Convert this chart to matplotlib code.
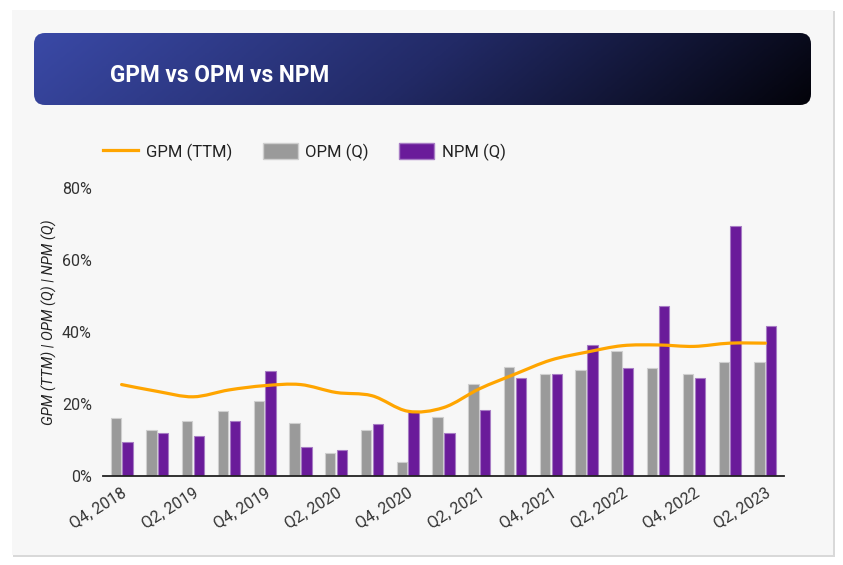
import numpy as np
import matplotlib.pyplot as plt
from matplotlib.patches import FancyBboxPatch, Rectangle, Patch, PathPatch
from matplotlib.path import Path
from matplotlib.lines import Line2D
from matplotlib.colors import LinearSegmentedColormap

plt.rcParams['font.family'] = ['Roboto', 'DejaVu Sans']

quarters = ['Q4, 2018', 'Q1, 2019', 'Q2, 2019', 'Q3, 2019', 'Q4, 2019',
            'Q1, 2020', 'Q2, 2020', 'Q3, 2020', 'Q4, 2020', 'Q1, 2021',
            'Q2, 2021', 'Q3, 2021', 'Q4, 2021', 'Q1, 2022', 'Q2, 2022',
            'Q3, 2022', 'Q4, 2022', 'Q1, 2023', 'Q2, 2023']
gpm_ttm = [25.4, 23.5, 22.0, 23.9, 25.1, 25.4, 23.2, 22.3, 18.0, 19.0,
           24.2, 28.3, 32.2, 34.4, 36.2, 36.4, 36.0, 36.9, 36.9]
opm_q = [16.0, 12.9, 15.3, 18.1, 20.8, 14.7, 6.4, 12.9, 4.0, 16.4,
         25.6, 30.4, 28.4, 29.5, 34.8, 30.0, 28.4, 31.6, 31.6]
npm_q = [9.5, 11.9, 11.2, 15.3, 29.2, 8.1, 7.2, 14.4, 17.7, 11.9,
         18.4, 27.2, 28.4, 36.4, 30.0, 47.2, 27.2, 69.5, 41.6]

ORANGE = '#ffa500'
GRAY = '#9a9a9a'
PURPLE = '#6a1b9a'

W, H = 843, 565
fig = plt.figure(figsize=(W / 100, H / 100), dpi=100)
fig.patch.set_facecolor('white')

# background card + title banner, drawn in pixel coords
bg = fig.add_axes([0, 0, 1, 1], zorder=0)
bg.set_xlim(0, W)
bg.set_ylim(H, 0)
bg.axis('off')
bg.add_patch(Rectangle((13, 11), 822, 546, facecolor='#d9d9d9', edgecolor='none'))
bg.add_patch(Rectangle((12, 10), 821, 545, facecolor='#f7f7f7', edgecolor='none'))

banner = FancyBboxPatch((34, 33), 777, 72, boxstyle='round,pad=0,rounding_size=11',
                        facecolor='none', edgecolor='none')
bg.add_patch(banner)
cmap = LinearSegmentedColormap.from_list('ban', ['#3a49a6', '#222a66', '#03030a'])
gx = np.linspace(0, 1, 400)
gy = np.linspace(0, 1, 40)
grad = gx[None, :] * 0.9 + gy[:, None] * 0.1
im = bg.imshow(grad, cmap=cmap, extent=(34, 811, 105, 33), aspect='auto', zorder=1)
im.set_clip_path(banner)
bg.text(110, 75, 'GPM vs OPM vs NPM', color='white', fontsize=16.3,
        fontweight='bold', va='center', ha='left', zorder=2)

# main chart
ax = fig.add_axes([103 / W, 1 - 476 / H, 681 / W, 288 / H], zorder=1)
ax.set_facecolor('none')
x = np.arange(len(quarters))
bw = 0.29
off = 0.165
ax.bar(x - off, opm_q, bw, color=GRAY, edgecolor='#cfcfcf', linewidth=0.8, zorder=2)
ax.bar(x + off, npm_q, bw, color=PURPLE, edgecolor='#a77cc4', linewidth=0.8, zorder=2)

# smooth GPM line as bezier path through the data points
pts = np.column_stack([x, gpm_ttm]).astype(float)
verts = [pts[0]]
codes = [Path.MOVETO]
n = len(pts)
for i in range(n - 1):
    p0 = pts[max(i - 1, 0)]
    p1 = pts[i]
    p2 = pts[i + 1]
    p3 = pts[min(i + 2, n - 1)]
    verts += [p1 + (p2 - p0) / 6, p2 - (p3 - p1) / 6, p2]
    codes += [Path.CURVE4] * 3
ax.add_patch(PathPatch(Path(verts, codes), facecolor='none', edgecolor=ORANGE,
                       linewidth=2.3, capstyle='round', zorder=3))

ax.set_xlim(-0.52, len(quarters) - 0.48)
ax.set_ylim(0, 80)
ax.set_yticks([0, 20, 40, 60, 80])
ax.set_yticklabels(['0%', '20%', '40%', '60%', '80%'])
ax.set_xticks(x[::2])
ax.set_xticklabels(quarters[::2], rotation=32, ha='right', rotation_mode='anchor')
ax.tick_params(axis='y', length=0, pad=8, labelsize=11.5, labelcolor='#333333')
ax.tick_params(axis='x', length=0, pad=7, labelsize=11.5, labelcolor='#333333')
for s in ['top', 'right', 'left']:
    ax.spines[s].set_visible(False)
ax.spines['bottom'].set_color('#222222')
ax.spines['bottom'].set_linewidth(1.3)
ax.set_ylabel('GPM (TTM) | OPM (Q) | NPM (Q)', fontsize=10.6, style='italic',
              color='#222222')
ax.yaxis.set_label_coords(-0.067, 0.535)

handles = [Line2D([], [], color=ORANGE, linewidth=2.3),
           Patch(facecolor=GRAY, edgecolor='#cfcfcf'),
           Patch(facecolor=PURPLE, edgecolor='#a77cc4')]
fig.legend(handles, ['GPM (TTM)', 'OPM (Q)', 'NPM (Q)'], loc='center left',
           bbox_to_anchor=(103 / W, 1 - 152 / H), ncol=3, frameon=False,
           fontsize=12, handlelength=2.1, handleheight=1.05, handletextpad=0.45,
           columnspacing=1.85, borderpad=0, borderaxespad=0, labelcolor='#222222')

fig.savefig('out.png', dpi=100)
